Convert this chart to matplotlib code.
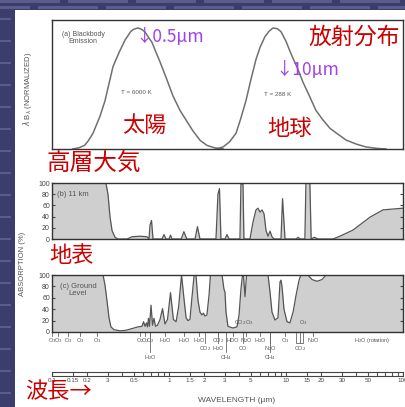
import matplotlib.pyplot as plt
from matplotlib.patches import Rectangle
from matplotlib.ticker import NullLocator

plt.rcParams['font.family'] = ['Liberation Sans', 'DejaVu Sans']
JP = ['Noto Sans CJK JP', 'DejaVu Sans']
RED = '#cc0000'
PURPLE = '#a040f0'
GRAY_FILL = '#cfcfcf'
LINE = '#555555'

# (a) normalized lambda*B_lambda
sun_wl = [0.15, 0.17, 0.19, 0.205, 0.224, 0.257, 0.284, 0.332, 0.375, 0.421, 0.47, 0.50, 0.543,
          0.58, 0.62, 0.716, 0.789, 0.838, 0.962, 1.08, 1.24, 1.60, 1.85, 2.11, 2.45, 2.9]
sun_val = [0.0, 0.01, 0.03, 0.07, 0.13, 0.27, 0.40, 0.68, 0.80, 0.90, 0.97, 0.99, 1.0,
           0.99, 0.97, 0.88, 0.78, 0.72, 0.57, 0.44, 0.32, 0.15, 0.07, 0.03, 0.01, 0.0]
earth_wl = [2.52, 2.90, 3.3, 3.74, 4.1, 4.55, 5.0, 5.54, 6.0, 6.62, 7.2, 7.74, 8.4, 9.06, 10.0,
            11.0, 12.5, 14.0, 16.0, 18.0, 20.5, 23.8, 28.0, 32.6, 40.0, 48.3, 60.0, 71.6]
earth_val = [0.0, 0.017, 0.06, 0.13, 0.25, 0.40, 0.57, 0.74, 0.84, 0.93, 0.975, 1.0, 0.995, 0.97, 0.89,
             0.79, 0.67, 0.55, 0.43, 0.32, 0.245, 0.17, 0.12, 0.074, 0.04, 0.017, 0.005, 0.0]

# (b) absorption at 11 km (%)
b_wl = [0.1, 0.289, 0.301, 0.313, 0.326, 0.346, 0.366, 0.438, 0.483, 0.565, 0.649, 0.675, 0.688,
        0.709, 0.730, 0.871, 0.906, 0.943, 1.00, 1.03, 1.06, 1.27, 1.34, 1.42, 1.67, 1.75, 1.84,
        2.52, 2.62, 2.70, 2.78, 3.01, 3.13, 3.26, 4.04, 4.12, 4.29, 4.37, 4.92, 5.22, 5.54, 5.76,
        6.00, 6.24, 6.49, 6.75, 7.02, 7.30, 7.59, 7.90, 9.06, 9.34, 9.81, 12.2, 12.7, 13.2, 14.5,
        14.8, 16.0, 16.4, 17.4, 18.8, 25.2, 28.9, 37.4, 52.2, 67.5, 100]
b_abs = [100, 100, 80, 40, 15, 3, 0, 0, 4, 5, 4, 0, 25,
         33, 0, 0, 8, 0, 0, 7, 0, 0, 13, 0, 0, 22, 0,
         0, 80, 90, 0, 0, 8, 0, 0, 98, 98, 0, 0, 30, 52, 55,
         48, 52, 45, 15, 5, 14, 4, 0, 0, 72, 0, 0, 3, 0, 0,
         100, 100, 0, 3, 0, 0, 5, 16, 39, 52, 55]

# (c) absorption at ground level (%)
c_wl = [0.1, 0.273, 0.284, 0.295, 0.307, 0.319, 0.339, 0.381, 0.429, 0.483,
        0.543, 0.588, 0.606, 0.624, 0.642, 0.655, 0.668, 0.681, 0.702, 0.723,
        0.744, 0.767, 0.798, 0.838, 0.880, 0.924, 0.971, 1.03, 1.09, 1.15,
        1.21, 1.28, 1.34, 1.40, 1.45, 1.51, 1.57, 1.64, 1.70, 1.77,
        1.84, 1.91, 1.97, 2.03, 2.11, 2.20, 2.26, 2.84, 2.95, 3.01,
        3.07, 3.19, 3.52, 3.81, 3.97, 4.12, 4.25, 4.33, 4.46, 4.60,
        7.02, 7.30, 7.59, 8.05, 8.54, 8.89, 9.06, 9.24, 9.61, 10.2,
        10.8, 11.5, 12.2, 12.9, 13.4, 15.4, 16.7, 18.4, 20.3, 22.0, 100]
c_abs = [100, 100, 82, 55, 25, 9, 4, 2, 3, 6,
         9, 10, 18, 10, 16, 9, 24, 10, 47, 12,
         24, 10, 12, 22, 41, 14, 22, 69, 22, 18,
         45, 100, 60, 25, 20, 22, 60, 100, 100, 55,
         35, 30, 33, 28, 30, 65, 100, 100, 75, 70,
         35, 10, 7, 9, 30, 75, 100, 100, 62, 100,
         100, 70, 35, 21, 25, 88, 91, 80, 40, 18,
         16, 35, 65, 90, 100, 100, 92, 89, 92, 100, 100]

# absorbing gases written under panel (c)
gas_names = ['O$_3$', 'O$_3$', 'O$_3$', 'O$_3$', 'O$_3$', 'O$_2$', 'O$_2$', 'O$_2$', 'H$_2$O',
             'H$_2$O', 'H$_2$O', 'H$_2$O', 'CO$_2$', 'CO$_2$', 'H$_2$O', 'CH$_4$', 'HDO',
             'CO$_2$', 'O$_3$', 'N$_2$O', 'CO', 'H$_2$O', 'N$_2$O', 'CH$_4$', 'O$_3$',
             'CO$_2$', 'O$_3$', 'N$_2$O', 'H$_2$O (rotation)']
gas_wl = [0.100, 0.113, 0.137, 0.173, 0.242, 0.565, 0.624, 0.688, 0.688,
          0.924, 1.34, 1.81, 2.03, 2.62, 2.62, 3.07, 3.52,
          4.04, 4.83, 4.55, 4.29, 6.00, 7.30, 7.30, 9.81,
          13.1, 14.0, 17.0, 54]
gas_row = [0, 0, 0, 0, 0, 0, 0, 0, 2,
           0, 0, 0, 1, 0, 1, 2, 0,
           -1, -1, 0, 1, 0, 1, 2, 0,
           1, -1, 0, 3]

# wavelength scale at the bottom
scale_ticks = [0.1, 0.15, 0.2, 0.3, 0.4, 0.5, 0.6, 0.7, 0.8, 0.9, 1, 1.5, 2, 3, 4, 5, 6, 7, 8, 9,
               10, 15, 20, 30, 40, 50, 60, 70, 80, 90, 100]
scale_lab_wl = [0.1, 0.15, 0.2, 0.3, 0.5, 1, 1.5, 2, 3, 5, 10, 15, 20, 30, 50, 100]
scale_lab = ['0.1', '0.15', '0.2', '3', '0.5', '1', '1.5', '2', '3', '5', '10', '15', '20', '30', '50', '100']

W, H = 406, 407
fig = plt.figure(figsize=(W / 100, H / 100), dpi=100, facecolor='#3b3e6d')


def px_box(x0, y0, x1, y1):
    return [x0 / W, 1 - y1 / H, (x1 - x0) / W, (y1 - y0) / H]


def ftext(x, y, s, **kw):
    fig.text(x / W, 1 - y / H, s, **kw)


# slide background stripes and the paper (drawn under the axes)
for row, off in [(0, 0), (6, 30)]:
    for x in range(-off, W, 68):
        fig.patches.append(Rectangle((x / W, 1 - (row + 3) / H), 60 / W, 3 / H,
                                     transform=fig.transFigure, color='#5a5d8c', lw=0, zorder=-3))
for y in range(18, H, 22):
    fig.patches.append(Rectangle((0, 1 - (y + 2) / H), 11 / W, 2 / H,
                                 transform=fig.transFigure, color='#5a5d8c', lw=0, zorder=-3))
fig.patches.append(Rectangle((15 / W, 0), 1, 1 - 10 / H, transform=fig.transFigure,
                             color='white', lw=0, zorder=-2))


def frame(ax):
    ax.set_facecolor('none')
    ax.set_xscale('log')
    ax.set_xlim(0.1, 100)
    ax.xaxis.set_minor_locator(NullLocator())
    ax.set_xticks([])
    for sp in ax.spines.values():
        sp.set_color('#333333')
        sp.set_linewidth(1.0)


# (a) blackbody emission
ax_a = fig.add_axes(px_box(52, 20, 403, 149))
frame(ax_a)
ax_a.plot(sun_wl, sun_val, color='#707070', lw=1.1)
ax_a.plot(earth_wl, earth_val, color='#707070', lw=1.1)
ax_a.set_ylim(0, 1.066)
ax_a.set_yticks([])

# (b) and (c) absorption
for ax_box, wl, ab in [((52, 183, 403, 239), b_wl, b_abs), ((52, 275, 403, 332), c_wl, c_abs)]:
    ax = fig.add_axes(px_box(*ax_box))
    frame(ax)
    ax.fill_between(wl, 0, ab, color=GRAY_FILL, lw=0)
    ax.plot(wl, ab, color=LINE, lw=0.9)
    ax.set_ylim(0, 100)
    ax.set_yticks(range(0, 101, 20))
    ax.tick_params(axis='y', direction='in', length=2.5, left=True, right=True,
                   labelsize=5, pad=1.5, labelcolor='#444444', color='#444444')
ax_c = ax

# gas labels
trans = ax_c.get_xaxis_transform()
row_y = {-1: 0.17, 0: -0.15, 1: -0.29, 2: -0.44, 3: -0.15}
line_end = {0: -0.07, 1: -0.2, 2: -0.35}
for name, wl, row in zip(gas_names, gas_wl, gas_row):
    ax_c.text(wl, row_y[row], name, transform=trans, fontsize=4, color='#555555',
              ha='center', va='center', clip_on=False)
    if row in line_end:
        ax_c.plot([wl, wl], [0, line_end[row]], transform=trans, color='#666666',
                  lw=0.6, clip_on=False)
ax_c.plot([12.2, 12.2, 14.0, 14.0], [-0.02, -0.19, -0.19, -0.02], transform=trans,
          color='#666666', lw=0.6, clip_on=False)

# wavelength scale bar
ax_s = fig.add_axes(px_box(52, 372, 403, 376))
ax_s.set_facecolor('none')
ax_s.set_xscale('log')
ax_s.set_xlim(0.1, 100)
ax_s.set_ylim(0, 1)
ax_s.vlines(scale_ticks, 0, 1, color='#555555', lw=0.8)
ax_s.xaxis.set_minor_locator(NullLocator())
ax_s.set_xticks(scale_lab_wl)
ax_s.set_xticklabels(scale_lab)
ax_s.set_yticks([])
ax_s.tick_params(axis='x', length=0, labelsize=4.5, pad=1.5, labelcolor='#444444')
for sp in ax_s.spines.values():
    sp.set_color('#444444')
    sp.set_linewidth(0.8)

# figure texts
small = dict(color='#555555', ha='center', va='center')
ftext(83, 38, '(a) Blackbody\nEmission', fontsize=5, linespacing=1.1, **small)
ftext(136, 92, 'T = 6000 K', fontsize=4.5, **small)
ftext(278, 95, 'T = 288 K', fontsize=4.5, **small)
ftext(57, 195, '(b) 11 km', fontsize=5.5, color='#555555', ha='left', va='center')
ftext(78, 290, '(c) Ground\nLevel', fontsize=5.5, linespacing=1.0, **small)
ftext(28, 89, r'$\lambda$ B$_\lambda$ (NORMALIZED)', fontsize=5.5, rotation=90, **small)
ftext(23, 264, 'ABSORPTION (%)', fontsize=5.5, rotation=90, **small)
ftext(237, 401, 'WAVELENGTH (µm)', fontsize=6, **small)

ftext(135, 37, '↓0.5µm', fontsize=12.5, color=PURPLE, ha='left', va='center', family=JP)
ftext(275, 70, '↓10µm', fontsize=12.5, color=PURPLE, ha='left', va='center', family=JP)
ftext(144, 125, '太陽', fontsize=16, color=RED, ha='center', va='center', family=JP)
ftext(290, 128, '地球', fontsize=16, color=RED, ha='center', va='center', family=JP)
ftext(354, 37, '放射分布', fontsize=16.5, color=RED, ha='center', va='center', family=JP)
ftext(94, 163, '高層大気', fontsize=17, color=RED, ha='center', va='center', family=JP)
ftext(72, 256, '地表', fontsize=16, color=RED, ha='center', va='center', family=JP)
ftext(25, 392, '波長→', fontsize=16, color=RED, ha='left', va='center', family=JP)

fig.savefig('out.png', dpi=100, facecolor=fig.get_facecolor())
